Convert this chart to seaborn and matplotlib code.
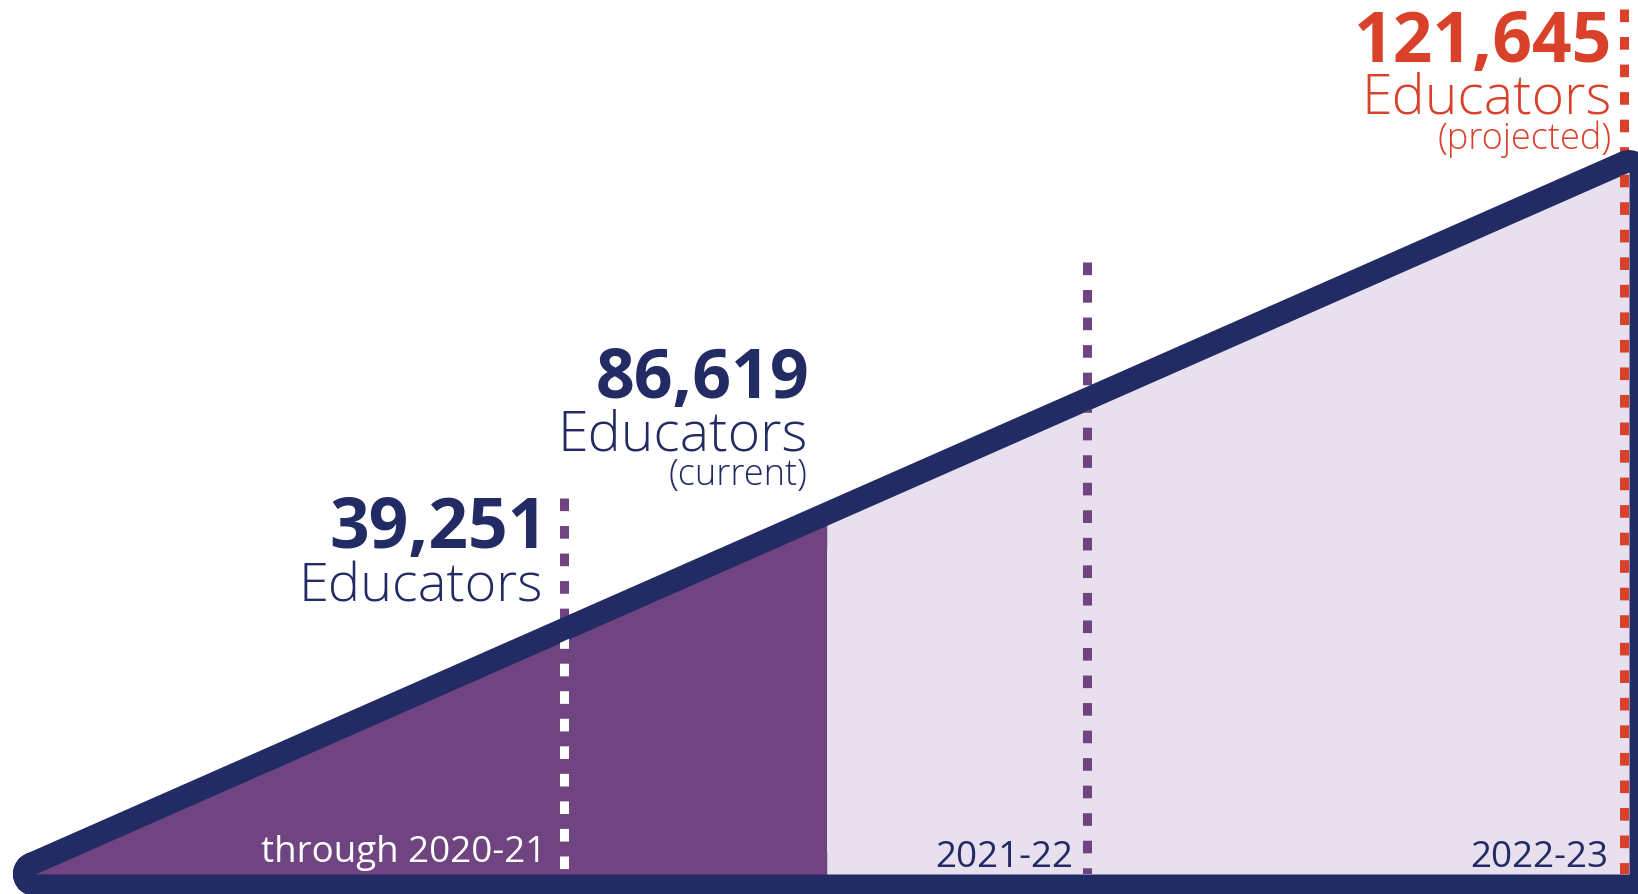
import numpy as np
import pandas as pd
import seaborn as sns
from matplotlib import pyplot as plt

# Data read from the graphic

periods = ['through 2020-21', '2021-22', '2022-23']
educators = [39251, 86619, 121645]
count_labels = ['39,251', '86,619', '121,645']
notes = ['', '(current)', '(projected)']

# Colours

navy = '#222b64'
purple = '#704480'
lavender = '#e8e0ee'
red = '#d9412a'

sns.set_theme(style='white')
plt.rcParams['font.family'] = ['Open Sans', 'DejaVu Sans']

fig = plt.figure(figsize=(16.38, 8.95), dpi=100)
ax = fig.add_axes([0, 0, 1, 1])

x_end = 3.0
top = educators[-1]

# Outline of the triangle (the fill covers its inner half)

outline = pd.DataFrame({'x': [0, x_end, x_end, 0],
                        'y': [0, 0, top, 0]})
sns.lineplot(data=outline, x='x', y='y', sort=False, estimator=None,
             color=navy, lw=31.7, solid_joinstyle='round',
             solid_capstyle='round', zorder=1, ax=ax)

# Fills: done so far / still to come

split = 1.49
xs = np.array([0, split])
ax.fill_between(xs, 0, xs / x_end * top, color=purple, lw=0, zorder=2)
xs = np.array([split, x_end])
ax.fill_between(xs, 0, xs / x_end * top, color=lavender, lw=0, zorder=2)

tri = plt.Polygon([[0, 0], [x_end, 0], [x_end, top]], closed=True,
                  transform=ax.transData)

# Dotted markers for each period

marker_x = [0.995, 1.98, 2.99]
marker_top = [65150, 106050, 149900]
outside_col = [purple, purple, red]
inside_col = ['white', purple, red]

for x, y0, c_out, c_in in zip(marker_x, marker_top, outside_col, inside_col):
    ax.plot([x, x], [y0, 0], color=c_out, lw=6.5, dashes=(1.4, 1.65), zorder=0.5)
    ln, = ax.plot([x, x], [y0, 0], color=c_in, lw=6.5, dashes=(1.4, 1.65), zorder=3)
    ln.set_clip_path(tri)

ax.set_xlim(-0.0659, 3.0169)
ax.set_ylim(-3466, 151620)
ax.axis('off')


def px(x, y):
    return x / 1638, 1 - y / 895


# Labels

text_col = [navy, navy, red]
num_pos = [(548, 548), (809, 398), (1612, 62)]
num_size = [50, 49, 50]
edu_pos = [(543, 601), (808, 451), (1612, 113)]
edu_size = [39, 40, 40]
note_pos = [None, (807, 485), (1612, 149)]

for i in range(3):
    fig.text(*px(*num_pos[i]), count_labels[i], ha='right', va='baseline',
             fontsize=num_size[i], fontweight='bold', color=text_col[i])
    fig.text(*px(*edu_pos[i]), 'Educators', ha='right', va='baseline',
             fontsize=edu_size[i], fontweight='light', color=text_col[i])
    if notes[i]:
        fig.text(*px(*note_pos[i]), notes[i], ha='right', va='baseline',
                 fontsize=26, fontweight='light', color=text_col[i])

period_pos = [(546, 862), (1073, 867), (1608, 867)]
period_col = ['white', navy, navy]
for p, pos, c in zip(periods, period_pos, period_col):
    fig.text(*px(*pos), p, ha='right', va='baseline', fontsize=26.5, color=c)

fig.savefig('out.png', dpi=100)
